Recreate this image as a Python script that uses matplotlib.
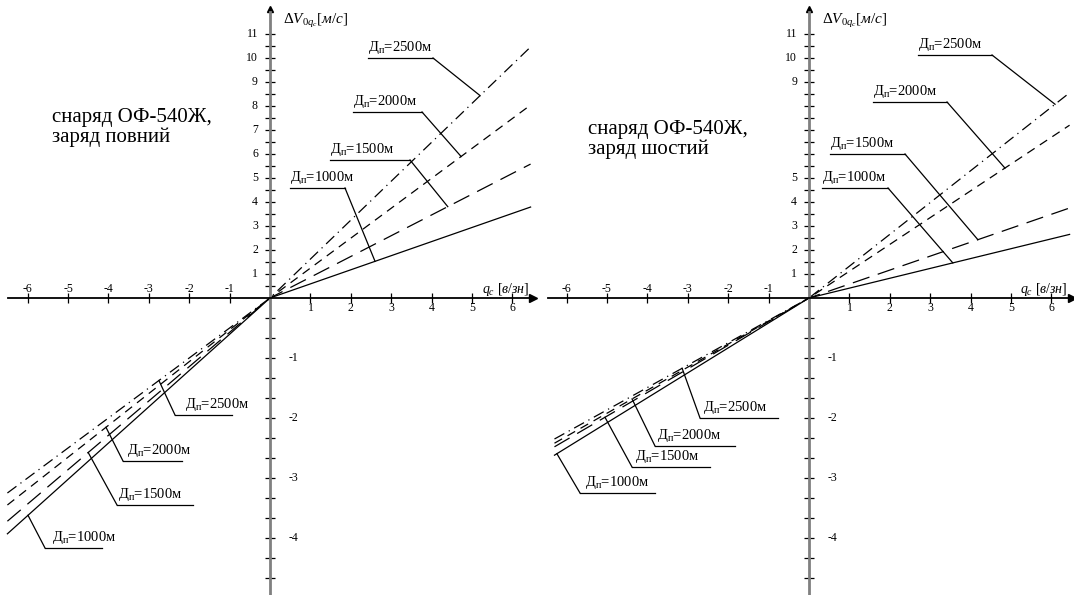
import numpy as np
import matplotlib
matplotlib.use("Agg")
import matplotlib.pyplot as plt
from matplotlib.transforms import IdentityTransform

plt.rcParams["font.family"] = ["Liberation Serif", "DejaVu Serif"]
plt.rcParams["mathtext.fontset"] = "custom"
plt.rcParams["mathtext.rm"] = "Liberation Serif"
plt.rcParams["mathtext.it"] = "Liberation Serif:italic"

W, H = 1074, 595

# data: dV0 vs q_c for four ranges
ranges = [1000, 1500, 2000, 2500]

full_x = [-6.5, 0.0, 6.45]
full_1000 = [-3.93, 0.0, 3.79]
full_1500 = [-3.72, 0.0, 5.58]
full_2000 = [-3.45, 0.0, 8.04]
full_2500 = [-3.25, 0.0, 10.46]

sixth_x = [-6.3, 0.0, 6.45]
sixth_1000 = [-2.62, 0.0, 2.65]
sixth_1500 = [-2.48, 0.0, 3.75]
sixth_2000 = [-2.42, 0.0, 7.2]
sixth_2500 = [-2.35, 0.0, 8.55]

x_ticks = [-6, -5, -4, -3, -2, -1, 1, 2, 3, 4, 5, 6]
y_ticks_pos = list(range(1, 12))
y_ticks_neg = [-1, -2, -3, -4]

styles = ["-", (0, (14, 7)), (0, (7, 5)), (0, (9, 4, 1, 4))]


def fwd(y):
    y = np.asarray(y, dtype=float)
    return np.where(y >= 0, y, 2.5 * y)


def inv(f):
    f = np.asarray(f, dtype=float)
    return np.where(f >= 0, f, f / 2.5)


def setup(ax, x0, x1, x_start, shown_y):
    ax.set_yscale("function", functions=(fwd, inv))
    ax.set_xlim(x0, x1)
    ax.set_ylim(-4.95, 298 / 24)
    for s in ["top", "right"]:
        ax.spines[s].set_visible(False)
    ax.spines["left"].set_position(("data", 0))
    ax.spines["bottom"].set_position(("data", 0))
    ax.spines["left"].set_color("#808080")
    ax.spines["left"].set_linewidth(2)
    ax.spines["left"].set_bounds(-4.95, 11.9)
    ax.spines["bottom"].set_linewidth(1.3)
    ax.spines["bottom"].set_bounds(x_start, 6.45)
    ax.plot(6.5, 0, marker=">", color="black", ms=6, clip_on=False)
    ax.plot(0, 12.05, marker="^", color="black", ms=5, clip_on=False)

    ax.set_xticks(x_ticks)
    ax.set_yticks(list(np.arange(0.5, 11.01, 0.5)) + [-k / 3 for k in range(1, 15)])
    ax.yaxis.set_minor_locator(matplotlib.ticker.NullLocator())
    ax.tick_params(direction="inout", length=7, width=0.9, colors="black",
                   labelbottom=False, labelleft=False)

    for x in x_ticks:
        off = 9 if x < 0 else -10
        ax.annotate(str(x), xy=(x, 0), xytext=(0, off), textcoords="offset pixels",
                    ha="center", va="center", fontsize=8.5)
    for y in shown_y:
        ax.annotate(str(y), xy=(0, y), xytext=(-12, 0), textcoords="offset pixels",
                    ha="right", va="center", fontsize=8.5)
    for y in y_ticks_neg:
        ax.annotate(str(y), xy=(0, y), xytext=(19, 0), textcoords="offset pixels",
                    ha="left", va="center", fontsize=8.5)


def lead(ax, text, xs, ys, tx, text_x, ul_y, ul_x0, ul_x1, pos):
    ty = np.interp(tx, xs, ys)
    dx, dy = ax.transData.transform((tx, ty))
    sx = ul_x1 if pos else ul_x0
    tr = IdentityTransform()
    ax.plot([ul_x0, ul_x1], [H - ul_y, H - ul_y], color="black", lw=0.9,
            transform=tr, clip_on=False)
    ax.plot([sx, dx], [H - ul_y, dy], color="black", lw=0.9,
            transform=tr, clip_on=False)
    ax.text(text_x, H - ul_y + 2, text, transform=tr, fontsize=10.5,
            ha="left", va="bottom")


fig = plt.figure(figsize=(W / 100, H / 100), dpi=100)
ax1 = fig.add_axes([0, 0, 540 / W, 1])
ax2 = fig.add_axes([540 / W, 0, 534 / W, 1])

setup(ax1, -270 / 40.4, 270 / 40.4, -6.49, y_ticks_pos)
setup(ax2, -269 / 40.4, 265 / 40.4, -6.46, [1, 2, 3, 4, 5, 9, 10, 11])

full = [full_1000, full_1500, full_2000, full_2500]
sixth = [sixth_1000, sixth_1500, sixth_2000, sixth_2500]
for ys, st in zip(full, styles):
    ax1.plot(full_x, ys, color="black", lw=0.9, linestyle=st)
for ys, st in zip(sixth, styles):
    ax2.plot(sixth_x, ys, color="black", lw=0.9, linestyle=st)

names = [r"Д$_\mathregular{п}$=%dм" % r for r in ranges]

# label layout: (target x on line, text x, underline y, ul x0, ul x1) in pixels
lay1_pos = [(2.6, 290, 188, 290, 345), (4.4, 330, 160, 330, 410),
            (4.73, 353, 112, 353, 422), (5.2, 368, 58, 368, 433)]
lay1_neg = [(-5.99, 52, 548, 45, 102), (-4.5, 118, 505, 117, 193),
            (-4.06, 127, 461, 123, 182), (-2.75, 185, 415, 175, 232)]
lay2_pos = [(3.56, 822, 188, 822, 888), (4.18, 830, 154, 830, 905),
            (4.85, 873, 102, 873, 947), (6.09, 918, 55, 918, 992)]
lay2_neg = [(-6.24, 585, 493, 580, 655), (-5.05, 635, 467, 632, 710),
            (-4.38, 657, 446, 655, 735), (-3.14, 703, 418, 700, 778)]

for i in range(4):
    lead(ax1, names[i], full_x, full[i], *lay1_pos[i], True)
    lead(ax1, names[i], full_x, full[i], *lay1_neg[i], False)
    lead(ax2, names[i], sixth_x, sixth[i], *lay2_pos[i], True)
    lead(ax2, names[i], sixth_x, sixth[i], *lay2_neg[i], False)

tr = IdentityTransform()
ax1.text(52, H - 122, "снаряд ОФ-540Ж,", transform=tr, fontsize=15)
ax1.text(52, H - 142, "заряд повний", transform=tr, fontsize=15)
ax2.text(588, H - 134, "снаряд ОФ-540Ж,", transform=tr, fontsize=15)
ax2.text(588, H - 154, "заряд шостий", transform=tr, fontsize=15)

ylab = r"$\mathit{\Delta V}_{\mathit{0q_c}}$[$\mathit{м/с}$]"
xlab = r"$q_c$ [$\mathit{в/зн}$]"
ax1.text(283, H - 24, ylab, transform=tr, fontsize=11)
ax2.text(822, H - 24, ylab, transform=tr, fontsize=11)
ax1.text(482, H - 293, xlab, transform=tr, fontsize=10)
ax2.text(1020, H - 293, xlab, transform=tr, fontsize=10)

fig.savefig("out.png", dpi=100)
